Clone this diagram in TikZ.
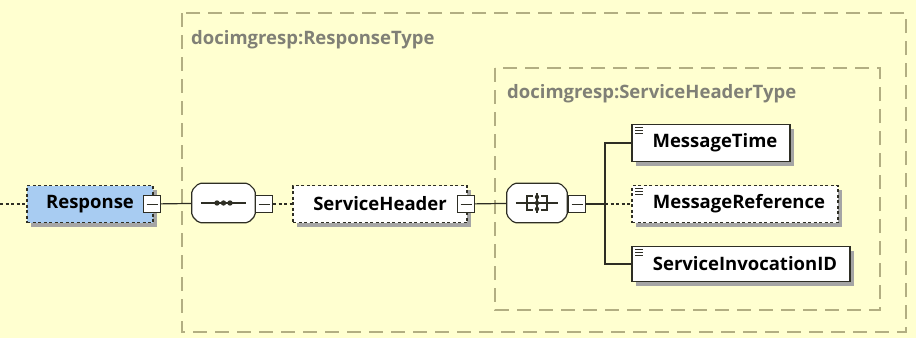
\documentclass[tikz,border=0pt]{standalone}
\usepackage{fontspec}
\setmainfont{Open Sans}
\usetikzlibrary{shadows, positioning}
\definecolor{PaleYellow}{RGB}{255,255,208}
\definecolor{GroupLine}{RGB}{178,174,130}
\definecolor{GroupText}{RGB}{128,128,118}
\definecolor{EdgeDark}{RGB}{46,46,36}
\definecolor{RootBlue}{RGB}{168,204,242}
\definecolor{ShadowGray}{RGB}{165,165,165}

\tikzset{
  elem/.style={draw=EdgeDark, line width=1.2pt, fill=white, minimum height=37pt,
    inner sep=0pt, font=\bfseries\fontsize{18.5}{20}\selectfont,
    drop shadow={shadow xshift=4pt, shadow yshift=-4pt, fill=ShadowGray, opacity=1}},
  optional/.style={dash pattern=on 3pt off 2.5pt},
  minus/.style={draw=EdgeDark, line width=1.1pt, fill=white, minimum size=17pt, inner sep=0pt,
    path picture={\draw[line width=1pt] ([xshift=3pt]path picture bounding box.west)
      -- ([xshift=-3pt]path picture bounding box.east);}},
  compositor/.style={minimum height=39pt, inner sep=0pt},
  conn/.style={EdgeDark, line width=1.2pt},
  group/.style={GroupLine, line width=1.3pt, dash pattern=on 14pt off 8pt},
  grouplabel/.style={anchor=west, inner sep=0pt, text=GroupText, font=\bfseries\fontsize{18.5}{20}\selectfont},
  leaficon/.style={EdgeDark, line width=0.8pt}
}

% chamfered outline of a compositor node
\newcommand\octpath[1]{([xshift=7pt]#1.north west) -- ([xshift=-7pt]#1.north east)
  -- ([yshift=-7pt]#1.north east) -- ([yshift=7pt]#1.south east) -- ([xshift=-7pt]#1.south east)
  -- ([xshift=7pt]#1.south west) -- ([yshift=7pt]#1.south west) -- ([yshift=-7pt]#1.north west) -- cycle}

\begin{document}
\begin{tikzpicture}[x=1pt, y=-1pt]
    % background
    \fill[PaleYellow] (0,0) rectangle (916,338);
    \useasboundingbox (0,0) rectangle (916,338);

    % group boxes
    \draw[group] (182,13) rectangle (906,332);
    \node[grouplabel] (outerlbl) at (191,40) {docimgresp:ResponseType};
    \draw[group] (495,68) rectangle (880,310);
    \node[grouplabel] (innerlbl) at (507,94) {docimgresp:ServiceHeaderType};

    % compositors
    \node[compositor, minimum width=63pt] (seq) at (223.5,203) {};
    \node[compositor, minimum width=60pt] (all) at (537,203) {};
    \foreach \comp in {seq, all} {
      \fill[ShadowGray, rounded corners=2pt, xshift=4pt, yshift=-4pt] \octpath{\comp};
      \draw[conn, fill=white, rounded corners=2pt] \octpath{\comp};
    }

    % elements
    \coordinate (lft) at (0,204);
    \node[elem, optional, fill=RootBlue, minimum width=126pt] (resp) at (90,204) {Response};
    \node[minus] (m1) at (152,204) {};
    \node[minus] (m2) at (264,204) {};
    \node[elem, optional, minimum width=174pt] (hdr) at (380,204) {ServiceHeader};
    \node[minus] (m3) at (466,204) {};
    \node[minus] (m4) at (577,204) {};
    \coordinate (bus) at (605,204);
    \node[elem, minimum width=158pt] (time) at (711,143) {\hspace*{8pt}MessageTime};
    \node[elem, optional, minimum width=206pt] (ref) at (735,204) {\hspace*{8pt}MessageReference};
    \node[elem, minimum width=218pt, minimum height=35pt] (invoc) at (741,264) {\hspace*{8pt}ServiceInvocationID};

    % connectors
    \draw[conn, optional] (lft) -- (resp);
    \draw[conn] (m1) -- (seq);
    \draw[conn, optional] (m2) -- (hdr);
    \draw[conn] (m3) -- (all);
    \draw[conn] (m4) -- (bus);
    \draw[conn] (time.west) -| (bus) |- (invoc.west);
    \draw[conn, optional] (bus) -- (ref.west);

    % compositor symbols
    \draw[conn] ([xshift=9pt]seq.west) -- ([xshift=-9pt]seq.east);
    \foreach \dx in {-6.5,0,6.5}
      \fill[EdgeDark] ([xshift=\dx pt]seq.center) circle (2.7pt);
    \draw[conn] ([xshift=9pt]all.west) -- ([xshift=-9pt]all.east);
    \draw[EdgeDark, line width=1.3pt] ([xshift=-4pt, yshift=7pt]all.center) -- ++(-6,0) -- ++(0,14) -- ++(6,0);
    \draw[EdgeDark, line width=1.3pt] ([xshift=4pt, yshift=7pt]all.center) -- ++(6,0) -- ++(0,14) -- ++(-6,0);
    \draw[EdgeDark, line width=1.3pt] ([yshift=10pt]all.center) -- ([yshift=-10pt]all.center);
    \foreach \dy in {-6,0,6}
      \fill[EdgeDark] ([yshift=\dy pt]all.center) circle (2.2pt);

    % leaf icons
    \foreach \leaf in {time, ref, invoc}
      \foreach \dy in {3,6,9}
        \draw[leaficon] ([xshift=4pt, yshift=-\dy pt]\leaf.north west) -- ++(8,0);
\end{tikzpicture}
\end{document}
